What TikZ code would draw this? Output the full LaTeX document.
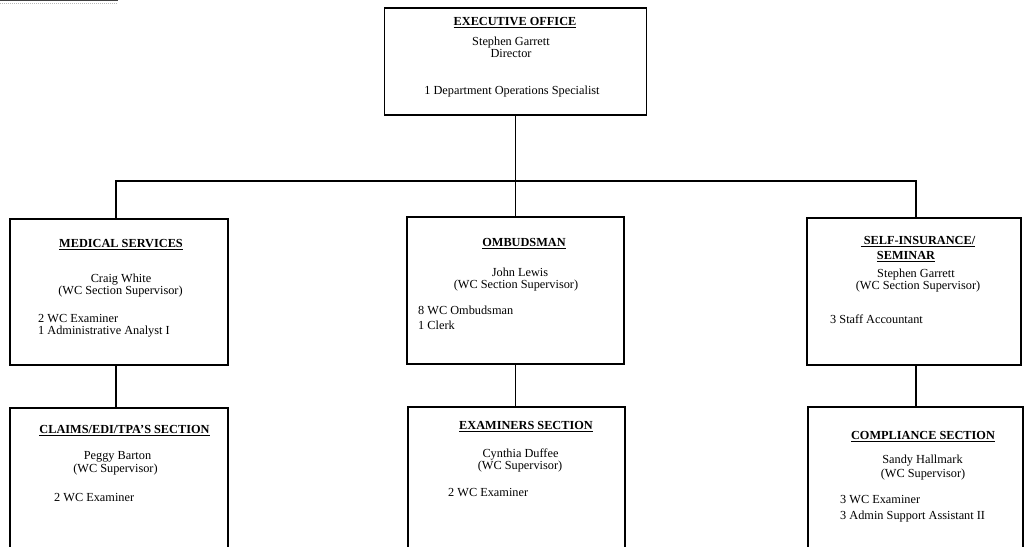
\documentclass[tikz,border=0pt]{standalone}
\usepackage{fontspec}
\setmainfont{Liberation Serif}
% bold heading with a rule under it
\newcommand\hd[1]{\setbox0\hbox{#1}\rlap{\rule[-2.6pt]{\wd0}{0.9pt}}\box0}
\begin{document}
\begin{tikzpicture}[x=1pt,y=-1pt,
  unit/.style={draw, line width=1.8pt, inner sep=0pt, outer sep=0pt},
  link/.style={line width=1.8pt},
  lbl/.style={anchor=base, inner sep=0pt, font=\fontsize{12.3}{13}\selectfont},
  head/.style={lbl, font=\fontsize{12.3}{13}\selectfont\bfseries},
  item/.style={lbl, anchor=base west}]
\clip (0,0) rectangle (1027,546);
\fill[white] (0,0) rectangle (1027,546);

% page edge rule, upper left
\draw[line width=1pt, black!75] (0,0.6) -- (118,0.6);
\draw[line width=1pt, gray!55, dash pattern=on 1pt off 1pt] (0,3.5) -- (118,3.5);

% boxes
\node[unit, minimum width=262, minimum height=107] (exec)   at (515.5,61.5) {};
\node[unit, minimum width=218, minimum height=146] (med)    at (119,292) {};
\node[unit, minimum width=217, minimum height=147] (omb)    at (515.5,290.5) {};
\node[unit, minimum width=214, minimum height=147] (self)   at (914,291.5) {};
\node[unit, minimum width=218, minimum height=160] (claims) at (119,488) {};
\node[unit, minimum width=217, minimum height=160] (exam)   at (516.5,487) {};
\node[unit, minimum width=215, minimum height=160] (comp)   at (915.5,487) {};

% connectors
\coordinate (busL) at (116,181);
\coordinate (busR) at (916,181);
\draw[link] (exec.south) -- (exec.south |- busL);
\draw[link] (busL |- med.north) -- (busL) -- (busR) -- (busR |- self.north);
\draw[link] (omb.north) -- (omb.north |- busL);
\draw[link] (busL |- med.south) -- (busL |- claims.north);
\draw[link] (omb.south) -- (omb.south |- exam.north);
\draw[link] (busR |- self.south) -- (busR |- comp.north);

% executive office
\node[head] (execH) at (515,25) {\hd{EXECUTIVE OFFICE}};
\node[lbl] (execN) at (511,45) {Stephen Garrett};
\node[lbl] (execR) at (511,57.5) {Director};
\node[lbl] (execS) at (512,94) {1 Department Operations Specialist};

% medical services
\node[head] (medH) at (121,247) {\hd{MEDICAL SERVICES}};
\node[lbl] (medN) at (121,282) {Craig White};
\node[lbl] (medR) at (120.5,294) {(WC Section Supervisor)};
\node[item] (medA) at (38,322) {2 WC Examiner};
\node[item] (medB) at (38,334.5) {1 Administrative Analyst I};

% ombudsman
\node[head] (ombH) at (524,246) {\hd{OMBUDSMAN}};
\node[lbl] (ombN) at (520,276) {John Lewis};
\node[lbl] (ombR) at (516,288) {(WC Section Supervisor)};
\node[item] (ombA) at (418,314) {8 WC Ombudsman};
\node[item] (ombB) at (418,329) {1 Clerk};

% self-insurance / seminar
\node[head] (selfH) at (918,244) {\hd{\ SELF-INSURANCE/}};
\node[head] (selfG) at (906,259) {\hd{SEMINAR}};
\node[lbl] (selfN) at (916,277) {Stephen Garrett};
\node[lbl] (selfR) at (918,289) {(WC Section Supervisor)};
\node[item] (selfA) at (830,323) {3 Staff Accountant};

% claims / edi / tpa
\node[head] (claimsH) at (124.5,433) {\hd{CLAIMS/EDI/TPA'S SECTION}};
\node[lbl] (claimsN) at (117.5,459) {Peggy Barton};
\node[lbl] (claimsR) at (115.5,472) {(WC Supervisor)};
\node[item] (claimsA) at (54,501) {2 WC Examiner};

% examiners section
\node[head] (examH) at (526,429) {\hd{EXAMINERS SECTION}};
\node[lbl] (examN) at (520.5,457) {Cynthia Duffee};
\node[lbl] (examR) at (520,469) {(WC Supervisor)};
\node[item] (examA) at (448,496) {2 WC Examiner};

% compliance section
\node[head] (compH) at (923,439) {\hd{COMPLIANCE SECTION}};
\node[lbl] (compN) at (922.5,463) {Sandy Hallmark};
\node[lbl] (compR) at (923,477) {(WC Supervisor)};
\node[item] (compA) at (840,503) {3 WC Examiner};
\node[item] (compB) at (840,519) {3 Admin Support Assistant II};
\end{tikzpicture}
\end{document}
